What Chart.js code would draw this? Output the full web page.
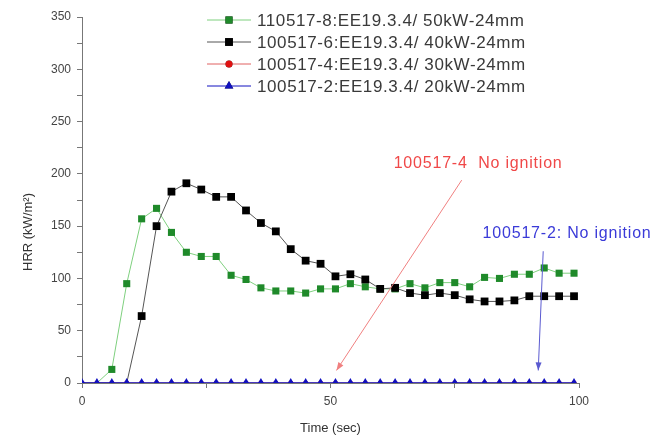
<!DOCTYPE html>
<html lang="en">
<head>
  <meta charset="UTF-8">
  <title>HRR</title>
  <script src="https://cdn.jsdelivr.net/npm/chart.js@4.4.0/dist/chart.umd.min.js"></script>
  <style>
    html, body { margin: 0; padding: 0; background: #fff; }
  </style>
</head>
<body>
  <canvas id="myChart" width="652" height="441"></canvas>
  <script>
    // time (sec), one reading every 3 s
    const times = [0, 3, 6, 9, 12, 15, 18, 21, 24, 27, 30, 33, 36, 39, 42, 45, 48, 51, 54, 57, 60, 63, 66, 69, 72, 75, 78, 81, 84, 87, 90, 93, 96, 99]
    // HRR kW/m2
    const hrr50 = [0, 0, 13, 95, 157, 167, 144, 125, 121, 121, 103, 99, 91, 88, 88, 86, 90, 90, 95, 92, 90, 90, 95, 91, 96, 96, 92, 101, 100, 104, 104, 110, 105, 105]
    const hrr40 = [0, 0, 0, 0, 64, 150, 183, 191, 185, 178, 178, 165, 153, 145, 128, 117, 114, 102, 104, 99, 90, 91, 86, 84, 86, 84, 80, 78, 78, 79, 83, 83, 83, 83]
    const hrr30 = [0, 0, 0, 0, 0, 0, 0, 0, 0, 0, 0, 0, 0, 0, 0, 0, 0, 0, 0, 0, 0, 0, 0, 0, 0, 0, 0, 0, 0, 0, 0, 0, 0, 0]
    const hrr20 = [0, 0, 0, 0, 0, 0, 0, 0, 0, 0, 0, 0, 0, 0, 0, 0, 0, 0, 0, 0, 0, 0, 0, 0, 0, 0, 0, 0, 0, 0, 0, 0, 0, 0]
    const seriesLabels = [
      '110517-8:EE19.3.4/ 50kW-24mm',
      '100517-6:EE19.3.4/ 40kW-24mm',
      '100517-4:EE19.3.4/ 30kW-24mm',
      '100517-2:EE19.3.4/ 20kW-24mm'
    ]
    const xTicks = [0, 50, 100]
    const yTicks = [0, 50, 100, 150, 200, 250, 300, 350]

    const FONT = 'Arial, "Liberation Sans", sans-serif'

    // text + arrow notes, in data units (x sec, y HRR)
    const notes = [
      { text: '100517-4  No ignition', color: '#f04848', line: '#f08080', at: [79.7, 210], from: [76.4, 194], to: [51.2, 12] },
      { text: '100517-2: No ignition', color: '#3a3ad8', line: '#5a5ad0', at: [97.6, 143], from: [92.8, 126], to: [91.8, 12] }
    ]

    const styles = [
      { line: '#7fd07f', fill: '#1f8a2a', shape: 'rect', r: 5, order: 3 },
      { line: '#555555', fill: '#000000', shape: 'rect', r: 5.5, order: 2 },
      { line: '#e06060', fill: '#e01010', shape: 'circle', r: 2.5, order: 1 },
      { line: '#1010c0', fill: '#1010c0', shape: 'triangle', r: 5, order: 0 }
    ]
    const values = [hrr50, hrr40, hrr30, hrr20]

    const extras = {
      id: 'extras',
      afterDraw(chart) {
        const ctx = chart.ctx
        const xs = chart.scales.x, ys = chart.scales.y
        ctx.save()

        // legend
        chart.data.datasets.forEach((ds, i) => {
          const y = 20 + i * 22
          ctx.strokeStyle = ds.borderColor
          ctx.lineWidth = 1
          ctx.beginPath(); ctx.moveTo(207, y); ctx.lineTo(251, y); ctx.stroke()
          Chart.helpers.drawPoint(ctx, { pointStyle: ds.pointStyle, radius: styles[i].r < 3 ? 3.5 : styles[i].r, borderWidth: 0 }, 229, y)
          ctx.fillStyle = ds.pointBackgroundColor
          ctx.fill()
          ctx.fillStyle = '#3a3a3a'
          ctx.font = '17px ' + FONT
          ctx.letterSpacing = '0.6px'
          ctx.textAlign = 'left'
          ctx.textBaseline = 'middle'
          ctx.fillText(ds.label, 257, y + 1)
        })

        // notes
        notes.forEach(n => {
          const x1 = xs.getPixelForValue(n.from[0]), y1 = ys.getPixelForValue(n.from[1])
          const x2 = xs.getPixelForValue(n.to[0]), y2 = ys.getPixelForValue(n.to[1])
          ctx.strokeStyle = n.line
          ctx.fillStyle = n.line
          ctx.lineWidth = 1
          ctx.beginPath(); ctx.moveTo(x1, y1); ctx.lineTo(x2, y2); ctx.stroke()
          const a = Math.atan2(y2 - y1, x2 - x1)
          ctx.beginPath()
          ctx.moveTo(x2, y2)
          ctx.lineTo(x2 - 8 * Math.cos(a) + 3 * Math.sin(a), y2 - 8 * Math.sin(a) - 3 * Math.cos(a))
          ctx.lineTo(x2 - 8 * Math.cos(a) - 3 * Math.sin(a), y2 - 8 * Math.sin(a) + 3 * Math.cos(a))
          ctx.closePath(); ctx.fill()
          ctx.fillStyle = n.color
          ctx.font = '16px ' + FONT
          ctx.letterSpacing = '0.8px'
          ctx.textAlign = 'center'
          ctx.textBaseline = 'middle'
          ctx.fillText(n.text, xs.getPixelForValue(n.at[0]), ys.getPixelForValue(n.at[1]))
        })

        // axis titles
        ctx.letterSpacing = '0px'
        ctx.fillStyle = '#333'
        ctx.font = '13px ' + FONT
        ctx.textAlign = 'center'
        ctx.textBaseline = 'middle'
        ctx.fillText('Time (sec)', (xs.left + xs.right) / 2, 428)
        ctx.translate(28, 232)
        ctx.rotate(-Math.PI / 2)
        ctx.fillText('HRR (kW/m\u00B2)', 0, 0)
        ctx.restore()
      }
    }

    const ctx = document.getElementById('myChart').getContext('2d')
    new Chart(ctx, {
      type: 'line',
      data: {
        datasets: values.map((v, i) => ({
          label: seriesLabels[i],
          data: times.map((t, k) => ({ x: t, y: v[k] })),
          borderColor: styles[i].line,
          borderWidth: i === 3 ? 1.5 : 1,
          pointStyle: styles[i].shape,
          // burning series: zero readings sit under the blue markers
          pointRadius: c => (i < 2 && c.raw && c.raw.y === 0) ? 0 : styles[i].r,
          pointBackgroundColor: styles[i].fill,
          pointBorderWidth: 0,
          tension: 0,
          order: styles[i].order
        }))
      },
      options: {
        responsive: false,
        animation: false,
        layout: { padding: { top: 17, right: 73, left: 0, bottom: 0 } },
        plugins: {
          legend: { display: false },
          tooltip: { enabled: false }
        },
        scales: {
          x: {
            type: 'linear',
            min: 0, max: 100,
            afterFit: s => { s.height = 58 },
            afterBuildTicks: s => { s.ticks = [0, 25, 50, 75, 100].map(v => ({ value: v })) },
            grid: { drawOnChartArea: false, tickLength: 5, color: '#777' },
            border: { color: '#777', width: 1 },
            ticks: {
              color: '#444', font: { family: FONT, size: 12 }, padding: 6, maxRotation: 0,
              callback: v => xTicks.includes(v) ? v : ''
            }
          },
          y: {
            min: 0, max: 350,
            afterFit: s => { s.width = 82 },
            afterBuildTicks: s => { s.ticks = [0, 25, 50, 75, 100, 125, 150, 175, 200, 225, 250, 275, 300, 325, 350].map(v => ({ value: v })) },
            grid: { drawOnChartArea: false, tickLength: 5, color: '#777' },
            border: { color: '#777', width: 1 },
            ticks: {
              color: '#444', font: { family: FONT, size: 12 }, padding: 6,
              callback: v => yTicks.includes(v) ? v : ''
            }
          }
        }
      },
      plugins: [extras]
    })
  </script>
</body>
</html>
